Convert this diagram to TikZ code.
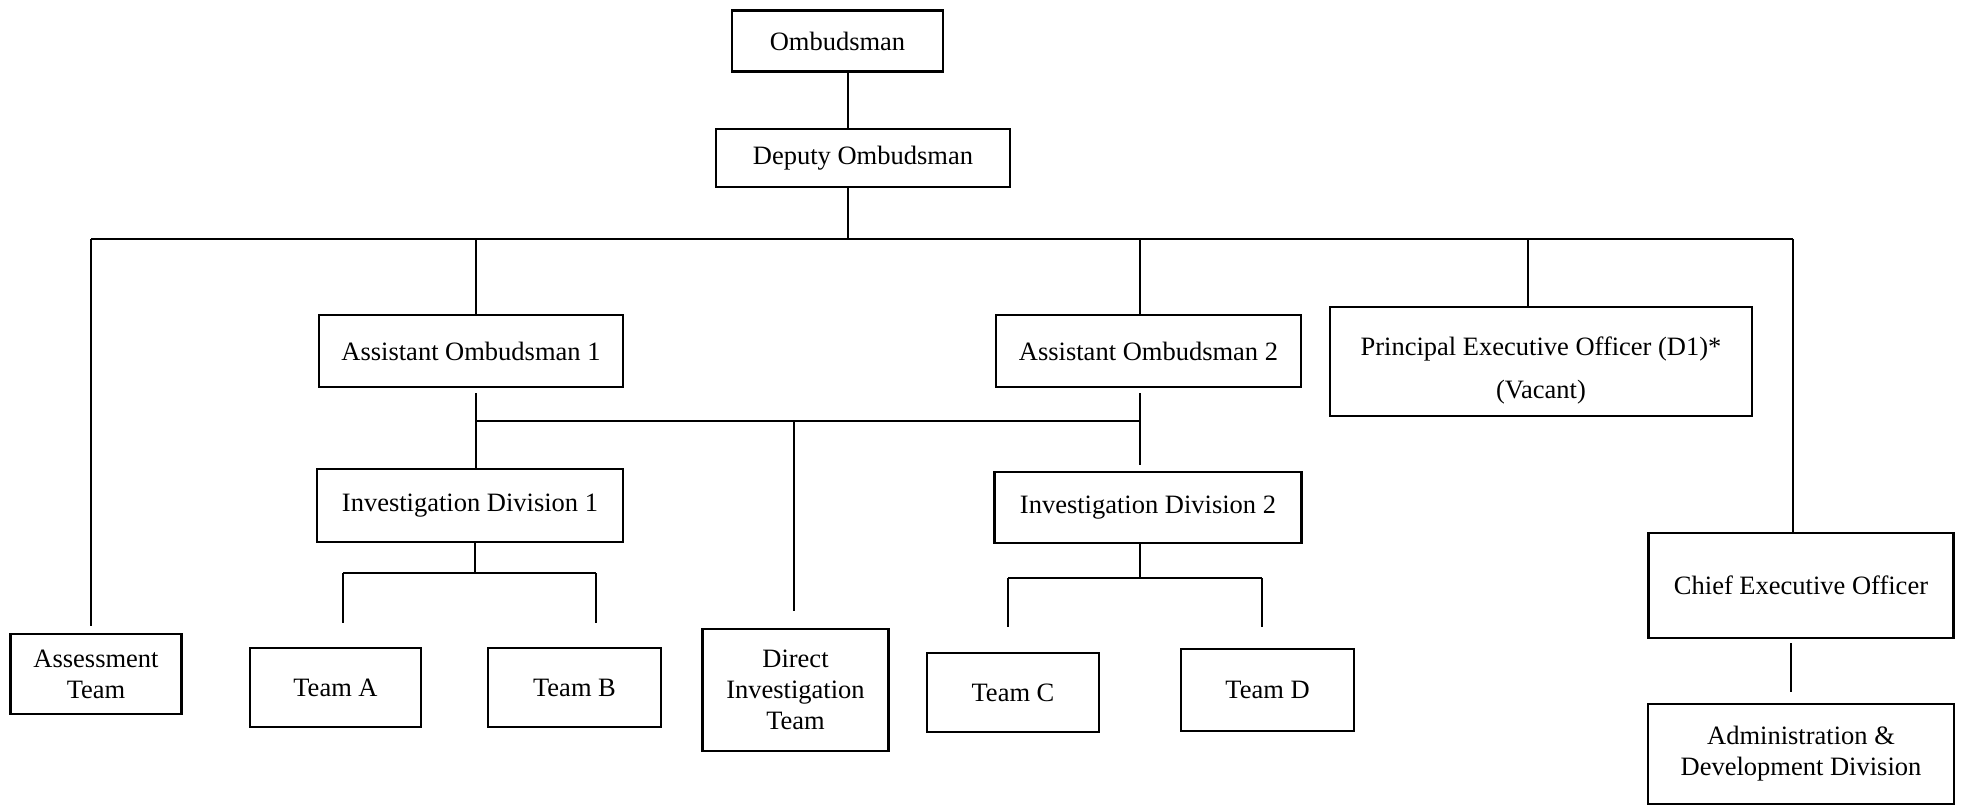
\documentclass[tikz,border=0pt]{standalone}
\usepackage{fontspec}
\setmainfont{Liberation Serif}

\begin{document}
\begin{tikzpicture}[
  x=0.5pt, y=-0.5pt,
  orgbox/.style={
    draw=black, line width=1.4pt, fill=white, align=center,
    font=\fontsize{13.25}{15.5}\selectfont, inner sep=2pt
  },
  link/.style={draw=black, line width=0.9pt},
]

% Frame
\useasboundingbox (0,0) rectangle (1961,805);
\fill[white] (0,0) rectangle (1961,805);

% =============================================
% Top of the office
% =============================================
\node[orgbox, minimum width=105.5pt, minimum height=30.5pt] (omb) at (837.5,41) {Ombudsman};
\node[orgbox, minimum width=147pt, minimum height=29pt] (dep) at (863,158) {Deputy Ombudsman};

% Second row
\node[orgbox, minimum width=152pt, minimum height=36pt] (ao1) at (471,351) {Assistant Ombudsman 1};
\node[orgbox, minimum width=152.5pt, minimum height=36pt] (ao2) at (1148.5,351) {Assistant Ombudsman 2};
\node[orgbox, minimum width=211pt, minimum height=54.5pt] (peo) at (1541,361.5)
  {\rule{0pt}{18.5pt}Principal Executive Officer (D1)*\\[6pt](Vacant)};

% Divisions
\node[orgbox, minimum width=153pt, minimum height=36.5pt] (inv1) at (470,505.5) {Investigation Division 1};
\node[orgbox, minimum width=153.5pt, minimum height=35.5pt] (inv2) at (1148,507.5) {Investigation Division 2};
\node[orgbox, minimum width=152.5pt, minimum height=52.5pt] (ceo) at (1801,585.5) {Chief Executive Officer};

% Bottom row
\node[orgbox, minimum width=85.5pt, minimum height=40pt] (assess) at (96,674) {Assessment\\Team};
\node[orgbox, minimum width=85.5pt, minimum height=39.5pt] (teamA) at (335.5,687.5) {Team A};
\node[orgbox, minimum width=86.5pt, minimum height=39.5pt] (teamB) at (574.5,687.5) {Team B};
\node[orgbox, minimum width=93pt, minimum height=61pt] (direct) at (795.5,690)
  {Direct\\Investigation\\Team};
\node[orgbox, minimum width=86pt, minimum height=39.5pt] (teamC) at (1013,692.5) {Team C};
\node[orgbox, minimum width=86.5pt, minimum height=41pt] (teamD) at (1267.5,690) {Team D};
\node[orgbox, minimum width=153pt, minimum height=50pt] (admin) at (1801,754)
  {Administration \&\\Development Division};

% =============================================
% Connectors
% =============================================
% spine
\coordinate (spine) at (848,239);
\draw[link] (spine |- omb.south) -- (spine |- dep.north);
\draw[link] (spine |- dep.south) -- (spine);

% top bus
\coordinate (busL) at (91,239);
\coordinate (busR) at (1793,239);
\coordinate (a1top) at (476,239);
\coordinate (a2top) at (1140,239);
\coordinate (petop) at (1528,239);
\draw[link] (busL) -- (busR);
\draw[link, shorten >=3.5pt] (busL) -- (busL |- assess.north);
\draw[link] (a1top) -- (a1top |- ao1.north);
\draw[link] (a2top) -- (a2top |- ao2.north);
\draw[link] (petop) -- (petop |- peo.north);
\draw[link] (busR) -- (busR |- ceo.north);

% middle bus
\coordinate (midL) at (476,421);
\coordinate (midR) at (1140,421);
\coordinate (midD) at (794,421);
\draw[link, shorten <=2.5pt] (midL |- ao1.south) -- (midL);
\draw[link, shorten <=2.5pt] (midR |- ao2.south) -- (midR);
\draw[link] (midL) -- (midR);
\draw[link] (midL) -- (midL |- inv1.north);
\draw[link, shorten >=8.5pt] (midD) -- (midD |- direct.north);
\draw[link, shorten >=3pt] (midR) -- (midR |- inv2.north);

% teams under division 1
\coordinate (t1) at (475,573);
\coordinate (tA) at (343,573);
\coordinate (tB) at (596,573);
\draw[link] (t1 |- inv1.south) -- (t1);
\draw[link] (tA) -- (tB);
\draw[link, shorten >=12pt] (tA) -- (tA |- teamA.north);
\draw[link, shorten >=12pt] (tB) -- (tB |- teamB.north);

% teams under division 2
\coordinate (t2) at (1140,578);
\coordinate (tC) at (1008,578);
\coordinate (tD) at (1262,578);
\draw[link] (t2 |- inv2.south) -- (t2);
\draw[link] (tC) -- (tD);
\draw[link, shorten >=12.5pt] (tC) -- (tC |- teamC.north);
\draw[link, shorten >=10.5pt] (tD) -- (tD |- teamD.north);

% chief executive to administration
\coordinate (adm) at (1791,660);
\draw[link, shorten <=2pt, shorten >=5.5pt] (adm |- ceo.south) -- (adm |- admin.north);

\end{tikzpicture}
\end{document}
